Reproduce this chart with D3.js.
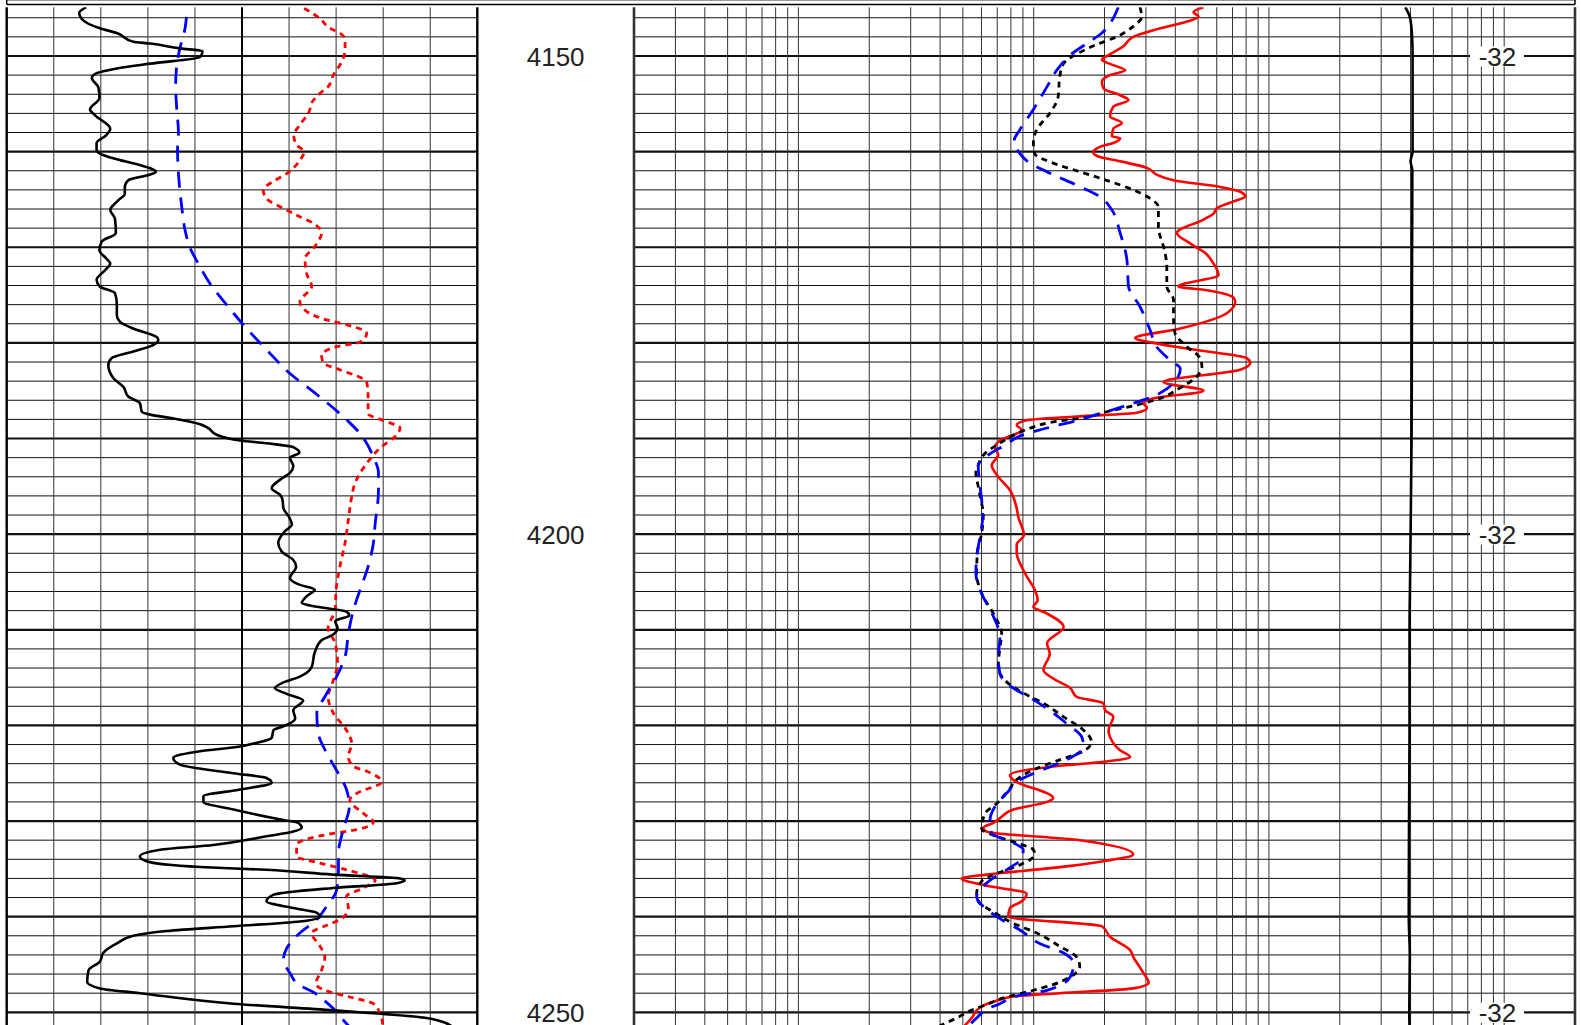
<!DOCTYPE html>
<html><head><meta charset="utf-8">
<script src="https://cdn.jsdelivr.net/npm/d3@7"></script>
<style>html,body{margin:0;padding:0;background:#fff;overflow:hidden}</style>
</head><body>
<svg id="c" width="1581" height="1025"></svg>
<script>
// ---------- DATA ----------
// depth labels (track 2) and right-track label
const depthLabels = [4150, 4200, 4250];
const spLabel = "-32";

// Left track (linear, 10 divisions) : [depth, value]
const grCurve = [
[4144.9,1.69],[4145.5,1.54],[4146.1,1.59],[4147.1,1.98],[4147.6,2.34],[4148.5,2.69],[4148.7,3.05],[4149.2,3.68],[4149.5,4.16],[4150.1,4.11],[4150.8,3.05],[4151.3,2.34],[4151.8,1.91],[4152.3,1.81],[4153.3,1.95],[4154.4,1.97],[4155.6,1.77],[4156.2,1.88],[4157.6,2.20],[4158.3,2.11],[4159.1,1.91],[4159.8,1.91],[4160.2,1.98],[4160.8,2.34],[4161.4,2.83],[4162.1,3.17],[4162.4,3.05],[4163.0,2.58],[4163.7,2.51],[4164.4,2.51],[4165.1,2.37],[4166.1,2.20],[4167.0,2.30],[4168.5,2.32],[4169.4,2.02],[4170.3,1.97],[4171.2,2.12],[4171.7,2.20],[4172.4,2.09],[4173.4,1.91],[4174.1,1.98],[4174.8,2.30],[4175.9,2.34],[4177.1,2.34],[4177.8,2.41],[4178.5,2.69],[4179.4,3.19],[4179.7,3.22],[4180.2,3.12],[4180.9,2.69],[4181.6,2.23],[4182.3,2.16],[4183.7,2.27],[4184.6,2.48],[4185.6,2.58],[4186.3,2.83],[4187.2,2.87],[4187.5,3.05],[4187.9,3.54],[4188.5,4.11],[4188.9,4.28],[4189.6,4.46],[4190.2,4.96],[4190.5,5.52],[4190.9,6.09],[4191.5,6.22],[4192.0,6.02],[4192.9,6.09],[4193.6,6.02],[4194.3,5.81],[4195.2,5.63],[4195.9,5.81],[4196.4,5.86],[4197.3,5.88],[4198.3,6.01],[4199.0,6.06],[4199.7,5.91],[4200.9,5.77],[4201.8,5.84],[4202.7,6.09],[4203.4,6.15],[4204.6,6.02],[4205.3,6.23],[4205.8,6.55],[4206.5,6.37],[4207.2,6.27],[4207.6,6.59],[4208.1,7.22],[4208.5,7.28],[4209.1,6.98],[4209.8,7.03],[4210.5,6.94],[4211.1,6.69],[4212.3,6.55],[4213.9,6.48],[4214.9,6.23],[4215.5,5.88],[4216.1,5.70],[4216.7,5.95],[4217.4,6.30],[4218.4,6.09],[4219.3,6.13],[4220.1,5.88],[4220.5,5.67],[4221.3,5.63],[4221.9,5.24],[4222.2,4.96],[4222.7,4.11],[4223.4,3.54],[4224.1,3.68],[4225.0,4.82],[4225.5,5.52],[4226.0,5.63],[4226.7,4.96],[4227.4,4.18],[4228.0,4.18],[4228.8,4.82],[4229.9,5.88],[4230.2,6.20],[4230.7,6.27],[4231.1,6.09],[4231.6,5.52],[4232.5,4.39],[4233.0,3.26],[4233.7,2.83],[4234.2,2.97],[4234.8,4.11],[4235.1,5.52],[4235.6,6.94],[4236.0,8.36],[4236.2,8.46],[4236.5,8.29],[4237.0,6.94],[4237.7,5.67],[4238.4,5.52],[4239.1,6.09],[4239.6,6.59],[4240.0,6.66],[4240.5,6.23],[4241.0,4.82],[4241.5,3.40],[4242.0,2.69],[4242.8,2.34],[4243.8,2.05],[4244.7,1.98],[4245.6,1.74],[4246.8,1.71],[4247.5,1.98],[4248.0,2.83],[4249.1,4.82],[4249.8,6.94],[4250.6,8.92],[4251.6,9.5]
];
const caliCurve = [
[4145.9,3.82],[4147.1,3.79],[4149.2,3.68],[4151.1,3.61],[4153.2,3.59],[4155.3,3.61],[4158.1,3.65],[4159.8,3.63],[4162.3,3.65],[4165.8,3.72],[4168.2,3.79],[4170.1,3.90],[4171.7,4.07],[4173.8,4.32],[4176.0,4.67],[4178.5,5.10],[4180.7,5.52],[4183.2,6.02],[4185.4,6.59],[4187.4,7.08],[4189.5,7.51],[4191.9,7.79],[4193.6,7.90],[4195.4,7.90],[4198.9,7.83],[4201.3,7.78],[4203.4,7.68],[4205.8,7.51],[4207.9,7.37],[4210.4,7.26],[4212.8,7.19],[4214.9,7.01],[4217.0,6.76],[4218.7,6.59],[4220.8,6.62],[4222.9,6.80],[4224.7,7.01],[4226.7,7.22],[4228.5,7.28],[4230.9,7.15],[4233.4,7.05],[4235.1,7.05],[4237.2,7.01],[4238.9,6.80],[4240.3,6.59],[4241.7,6.23],[4243.3,5.95],[4244.5,5.88],[4245.9,6.02],[4247.2,6.23],[4247.9,6.52],[4248.7,6.73],[4249.6,6.94],[4250.8,7.15],[4251.6,7.3]
];
const nphiCurve = [
[4145.0,6.32],[4146.1,6.66],[4147.1,6.87],[4147.6,7.08],[4148.3,7.19],[4149.4,7.19],[4150.6,7.12],[4152.0,6.94],[4153.2,6.83],[4153.9,6.66],[4154.6,6.52],[4156.0,6.41],[4157.2,6.23],[4158.3,6.10],[4159.3,6.16],[4160.0,6.32],[4160.9,6.23],[4162.3,5.95],[4163.1,5.67],[4164.0,5.45],[4164.9,5.52],[4166.1,5.95],[4166.8,6.23],[4167.5,6.52],[4168.5,6.69],[4169.9,6.55],[4171.2,6.34],[4172.7,6.37],[4174.1,6.48],[4175.7,6.23],[4176.7,6.37],[4177.6,6.80],[4178.1,7.22],[4179.0,7.65],[4179.9,7.51],[4180.4,7.01],[4181.3,6.69],[4182.1,6.73],[4182.8,7.08],[4184.1,7.65],[4185.6,7.68],[4187.4,7.68],[4188.1,8.00],[4188.9,8.36],[4189.6,8.29],[4191.0,7.93],[4192.6,7.65],[4194.7,7.40],[4196.4,7.32],[4198.5,7.26],[4200.9,7.19],[4203.4,7.08],[4205.8,7.00],[4207.9,6.98],[4209.8,6.83],[4211.4,6.98],[4213.5,7.03],[4215.3,6.94],[4217.0,6.83],[4218.7,6.94],[4220.5,7.22],[4221.9,7.33],[4223.3,7.26],[4224.3,7.37],[4224.8,7.65],[4225.9,7.97],[4227.1,7.44],[4227.8,7.29],[4229.2,7.58],[4230.1,7.79],[4230.9,7.44],[4231.3,6.94],[4231.8,6.44],[4232.5,6.16],[4233.7,6.16],[4234.4,6.66],[4235.1,7.22],[4236.2,7.83],[4237.0,7.58],[4237.9,7.22],[4239.1,7.26],[4240.2,7.12],[4240.9,6.80],[4241.7,6.48],[4243.1,6.66],[4244.2,6.76],[4245.6,6.69],[4247.0,6.57],[4247.7,6.76],[4248.4,7.29],[4249.1,7.79],[4250.1,7.93],[4251.6,8.0]
];

// Right track (logarithmic 0.2 - 2000) : [depth, value]
const deepRes = [
[4144.9,52.7],[4145.4,47.8],[4145.9,50.2],[4146.4,44.8],[4147.3,32.3],[4148.0,26.5],[4149.0,24.0],[4149.9,20.8],[4150.4,19.5],[4150.9,21.5],[4151.5,24.5],[4152.0,21.1],[4152.7,19.5],[4153.4,19.8],[4154.1,23.3],[4154.6,25.3],[4155.3,21.8],[4156.3,21.1],[4157.0,23.7],[4157.6,21.8],[4158.4,21.5],[4158.6,23.3],[4159.1,21.8],[4159.5,19.1],[4160.1,17.9],[4160.5,18.8],[4161.0,23.3],[4161.7,30.3],[4162.4,33.3],[4163.0,39.3],[4163.7,62.1],[4164.2,75.5],[4164.7,79.3],[4165.2,70.8],[4165.9,60.1],[4166.5,58.1],[4167.1,52.7],[4168.5,40.6],[4169.6,46.2],[4170.6,53.6],[4171.7,58.1],[4172.9,61.1],[4174.1,41.2],[4174.5,54.5],[4175.3,70.8],[4175.7,71.9],[4176.9,66.2],[4178.5,42.0],[4179.5,27.0],[4180.0,32.3],[4180.7,47.8],[4181.6,80.5],[4182.1,83.3],[4182.8,75.5],[4184.1,35.6],[4185.0,52.7],[4185.8,32.3],[4186.3,29.3],[4186.8,30.3],[4187.3,27.4],[4187.7,15.2],[4188.1,9.33],[4188.6,8.47],[4189.1,8.89],[4190.2,7.19],[4190.9,6.84],[4191.7,7.07],[4192.8,6.63],[4194.0,7.07],[4195.4,7.93],[4197.3,8.47],[4198.2,8.60],[4200.1,9.09],[4201.1,8.47],[4202.0,8.47],[4203.4,8.89],[4204.4,9.33],[4205.8,10.1],[4206.9,10.4],[4207.6,9.97],[4208.3,11.4],[4209.7,13.4],[4211.4,11.4],[4212.5,11.7],[4214.2,11.0],[4215.1,12.1],[4216.1,14.3],[4217.0,15.2],[4217.7,19.8],[4218.4,20.1],[4219.1,21.8],[4220.5,20.8],[4221.2,21.1],[4222.6,23.3],[4223.3,25.7],[4223.8,19.8],[4224.3,12.1],[4225.2,7.93],[4225.7,8.19],[4227.6,12.1],[4228.0,11.4],[4228.8,8.19],[4229.7,7.19],[4230.2,6.74],[4230.7,6.11],[4231.1,6.31],[4232.0,15.7],[4233.5,26.5],[4234.2,19.8],[4234.9,12.1],[4235.6,6.31],[4236.0,4.94],[4236.7,6.11],[4237.6,9.33],[4238.4,8.89],[4239.1,7.93],[4240.0,7.80],[4241.0,19.5],[4242.1,21.1],[4243.5,25.7],[4244.2,26.5],[4245.9,29.3],[4246.9,30.8],[4247.5,26.5],[4248.0,12.9],[4248.3,8.47],[4248.8,6.95],[4249.5,5.91],[4250.6,5.45],[4251.6,5.0]
];
const shallowRes = [
[4144.9,28.3],[4145.9,28.8],[4146.9,26.5],[4148.0,22.5],[4148.8,18.5],[4149.7,15.5],[4150.8,13.4],[4152.2,12.9],[4154.3,12.7],[4156.0,11.7],[4157.7,10.3],[4159.1,9.97],[4160.2,10.1],[4161.2,12.1],[4162.1,15.7],[4163.0,20.4],[4164.0,26.5],[4164.9,31.3],[4165.8,33.9],[4167.8,33.9],[4170.6,36.2],[4172.0,36.8],[4174.1,36.8],[4175.5,39.3],[4177.6,39.3],[4179.0,39.9],[4180.4,44.8],[4181.6,51.0],[4182.5,51.9],[4183.5,49.4],[4184.9,40.6],[4185.8,34.5],[4186.5,27.4],[4187.2,20.4],[4187.9,15.7],[4188.2,12.5],[4188.8,9.97],[4189.5,8.47],[4190.7,6.95],[4191.4,6.31],[4192.8,5.81],[4193.6,5.68],[4195.0,5.81],[4196.8,6.01],[4197.8,6.11],[4199.9,6.01],[4202.0,5.76],[4204.1,5.72],[4206.2,6.01],[4208.6,6.84],[4210.4,7.31],[4211.8,7.19],[4213.9,7.07],[4215.6,7.80],[4216.6,9.03],[4217.7,11.0],[4219.1,13.4],[4220.5,16.3],[4221.7,17.6],[4222.7,16.3],[4223.6,12.9],[4224.5,10.3],[4225.4,8.74],[4226.8,7.80],[4228.2,6.95],[4229.2,6.21],[4230.8,6.01],[4231.6,6.95],[4232.3,8.47],[4233.0,9.97],[4233.5,10.1],[4234.6,8.74],[4235.5,6.95],[4236.3,6.01],[4237.6,5.72],[4238.4,5.81],[4239.5,6.74],[4240.7,8.19],[4241.7,10.3],[4243.1,12.9],[4244.2,15.2],[4245.2,15.7],[4246.3,14.3],[4247.1,12.1],[4247.8,9.64],[4248.5,7.43],[4249.2,6.31],[4249.7,5.53],[4250.6,4.70],[4251.4,3.99]
];
const medRes = [
[4144.9,22.9],[4146.6,21.1],[4147.6,19.5],[4148.7,16.8],[4149.9,14.3],[4151.3,12.7],[4153.2,11.4],[4155.6,9.97],[4157.7,8.74],[4158.8,8.27],[4160.2,8.74],[4161.2,9.64],[4162.4,12.1],[4163.5,15.2],[4164.7,19.1],[4166.1,21.5],[4168.5,23.3],[4171.3,24.9],[4174.1,25.3],[4176.2,28.3],[4178.7,31.3],[4180.4,33.3],[4181.8,38.0],[4182.7,42.0],[4183.5,41.2],[4184.8,36.8],[4185.6,32.3],[4186.3,26.5],[4187.2,20.4],[4188.2,14.8],[4188.9,11.4],[4189.6,9.03],[4190.7,7.55],[4191.6,6.52],[4192.8,5.81],[4194.3,5.87],[4196.4,6.01],[4198.2,6.07],[4200.3,5.91],[4202.4,5.72],[4204.1,5.68],[4206.2,6.01],[4208.6,6.74],[4210.7,7.19],[4212.8,7.07],[4214.6,7.19],[4216.1,8.19],[4217.3,9.97],[4218.7,12.1],[4219.8,13.8],[4221.2,16.0],[4222.2,16.3],[4223.6,13.8],[4224.6,11.0],[4225.7,8.74],[4227.1,7.67],[4228.5,6.84],[4229.9,6.52],[4231.3,6.63],[4232.0,7.67],[4233.0,9.03],[4234.1,8.74],[4235.1,7.67],[4236.2,6.52],[4237.9,5.72],[4239.1,6.21],[4240.2,7.19],[4241.4,8.74],[4242.8,10.6],[4243.8,13.4],[4244.9,14.8],[4246.3,14.3],[4247.7,11.4],[4248.3,8.47],[4249.1,7.19],[4249.7,6.31],[4250.6,5.72],[4251.4,5.3]
];
const spCurve = [
[4144.9,380],[4146.0,398],[4148.0,406],[4150.0,408],[4155.0,408],[4160.0,408],[4161.0,400],[4162.0,407],[4170.0,406],[4180.0,405],[4190.0,404],[4200.0,400],[4205.0,398],[4210.0,396],[4220.0,396],[4230.0,394],[4240.0,393],[4244.0,397],[4250.0,395],[4251.6,396]
];

// ---------- LAYOUT ----------
const svg = d3.select('#c');
const TOP = 7.3, BOT = 1030;
const y = d3.scaleLinear().domain([4150, 4250]).range([56, 1012.3]);
const leftX = d3.scaleLinear().domain([0, 10]).range([6.7, 477.3]);
const rightX = d3.scaleLog().domain([0.2, 2000]).range([634, 1575]);
const depthMid = (477.3 + 634) / 2;
const FONT = "'Liberation Sans', Arial, Helvetica, sans-serif";

svg.append('rect').attr('width', 1581).attr('height', 1025).attr('fill', '#fff');

// header frame (bottom of a box above the tracks)
const frame = svg.append('g');
frame.append('line').attr('x1', 6.7).attr('x2', 1575).attr('y1', 0.5).attr('y2', 0.5).attr('stroke', '#999').attr('stroke-width', 1);
frame.append('line').attr('x1', 6.7).attr('x2', 1575).attr('y1', 4.5).attr('y2', 4.5).attr('stroke', '#000').attr('stroke-width', 1.5);
frame.append('line').attr('x1', 6.7).attr('x2', 6.7).attr('y1', 0).attr('y2', 4.5).attr('stroke', '#000').attr('stroke-width', 1.5);
frame.append('line').attr('x1', 1575).attr('x2', 1575).attr('y1', 0).attr('y2', 4.5).attr('stroke', '#000').attr('stroke-width', 1.5);

const hDepths = d3.range(4146, 4253, 2);

// ---- left track grid ----
const gl = svg.append('g');
gl.selectAll('line.h').data(hDepths).join('line')
  .attr('x1', leftX(0)).attr('x2', leftX(10))
  .attr('y1', d => y(d)).attr('y2', d => y(d))
  .attr('stroke', '#111')
  .attr('stroke-width', d => d % 10 === 0 ? 2.2 : 1);
gl.selectAll('line.v').data(d3.range(0, 11)).join('line')
  .attr('x1', d => leftX(d)).attr('x2', d => leftX(d))
  .attr('y1', TOP).attr('y2', BOT)
  .attr('stroke', d => (d === 0 || d === 5 || d === 10) ? '#000' : '#333')
  .attr('stroke-width', d => (d === 0 || d === 10) ? 2.4 : (d === 5 ? 2 : 1));

// ---- right track grid ----
const logTicks = [];
[0.1, 1, 10, 100, 1000].forEach(dec => {
  for (let k = 1; k <= 9; k++) {
    const v = +(k * dec).toPrecision(3);
    if (v >= 0.2 && v <= 2000) logTicks.push(v);
  }
});
const gr = svg.append('g');
gr.selectAll('line.h').data(hDepths).join('line')
  .attr('x1', rightX(0.2)).attr('x2', rightX(2000))
  .attr('y1', d => y(d)).attr('y2', d => y(d))
  .attr('stroke', '#111')
  .attr('stroke-width', d => d % 10 === 0 ? 2.2 : 1);
gr.selectAll('line.v').data(logTicks).join('line')
  .attr('x1', d => rightX(d)).attr('x2', d => rightX(d))
  .attr('y1', TOP).attr('y2', BOT)
  .attr('stroke', '#333')
  .attr('stroke-width', d => (d === 0.2 || d === 2000) ? 2.6 : 1);

// ---- labels ----
svg.append('g').selectAll('text').data(depthLabels).join('text')
  .attr('x', depthMid).attr('y', d => y(d) + 9.5)
  .attr('text-anchor', 'middle').attr('font-family', FONT).attr('font-size', 26)
  .attr('fill', '#222').text(d => d);

const lab = svg.append('g').selectAll('g').data(depthLabels).join('g');
lab.append('rect').attr('x', 1470).attr('y', d => y(d) - 9.5).attr('width', 54).attr('height', 20).attr('fill', '#fff');
lab.append('text').attr('x', 1497.5).attr('y', d => y(d) + 9.5)
  .attr('text-anchor', 'middle').attr('font-family', FONT).attr('font-size', 26)
  .attr('fill', '#222').text(spLabel);

// ---- curves ----
const defs = svg.append('defs');
defs.append('clipPath').attr('id', 'clipL').append('rect').attr('x', leftX(0)).attr('y', TOP).attr('width', leftX(10) - leftX(0)).attr('height', BOT - TOP);
defs.append('clipPath').attr('id', 'clipR').append('rect').attr('x', rightX(0.2)).attr('y', TOP).attr('width', rightX(2000) - rightX(0.2)).attr('height', BOT - TOP);

const lineL = d3.line().x(d => leftX(d[1])).y(d => y(d[0])).curve(d3.curveMonotoneY);
const lineR = d3.line().x(d => rightX(d[1])).y(d => y(d[0])).curve(d3.curveMonotoneY);

const cl = svg.append('g').attr('clip-path', 'url(#clipL)').attr('fill', 'none').attr('stroke-linejoin', 'round');
cl.append('path').attr('d', lineL(nphiCurve)).attr('stroke', '#ff0000').attr('stroke-width', 2.8).attr('stroke-dasharray', '6,5');
cl.append('path').attr('d', lineL(caliCurve)).attr('stroke', '#0000ff').attr('stroke-width', 2.8).attr('stroke-dasharray', '16,10');
cl.append('path').attr('d', lineL(grCurve)).attr('stroke', '#000').attr('stroke-width', 2.6);

const cr = svg.append('g').attr('clip-path', 'url(#clipR)').attr('fill', 'none').attr('stroke-linejoin', 'round');
cr.append('path').attr('d', lineR(spCurve)).attr('stroke', '#000').attr('stroke-width', 2.6);
cr.append('path').attr('d', lineR(deepRes)).attr('stroke', '#ff0000').attr('stroke-width', 2.6);
cr.append('path').attr('d', lineR(shallowRes)).attr('stroke', '#000').attr('stroke-width', 2.8).attr('stroke-dasharray', '6,5');
cr.append('path').attr('d', lineR(medRes)).attr('stroke', '#0000ff').attr('stroke-width', 2.8).attr('stroke-dasharray', '16,10');
</script>
</body></html>
